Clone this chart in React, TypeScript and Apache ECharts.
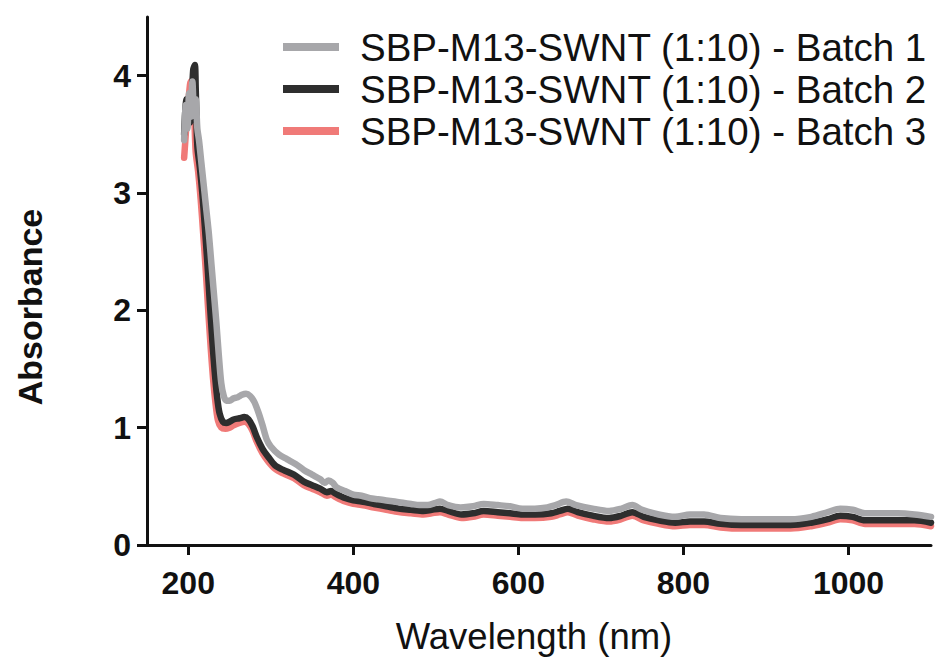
import React, { useEffect, useRef } from "react";
import * as echarts from "echarts";

const seriesNames = [
  "SBP-M13-SWNT (1:10) - Batch 1",
  "SBP-M13-SWNT (1:10) - Batch 2",
  "SBP-M13-SWNT (1:10) - Batch 3",
];

const batch1: [number, number][] = [
  [195, 3.45], [197, 3.75], [199, 3.55], [201, 3.85], [203, 3.65], [205, 3.95], [207, 3.7], [209, 3.8],
  [211, 3.55], [213, 3.45], [216, 3.25], [219, 3.05], [222, 2.85], [225, 2.65], [228, 2.4], [231, 2.15],
  [234, 1.9], [237, 1.62], [240, 1.38], [243, 1.27], [246, 1.23], [250, 1.23], [255, 1.25], [260, 1.26],
  [265, 1.28], [270, 1.29], [275, 1.27], [280, 1.22], [285, 1.13], [290, 1.02], [295, 0.9], [300, 0.84],
  [310, 0.77], [320, 0.73], [330, 0.69], [340, 0.64], [350, 0.6], [360, 0.56], [365, 0.53], [370, 0.55],
  [375, 0.53], [380, 0.49], [390, 0.46], [400, 0.43], [410, 0.42], [420, 0.4], [430, 0.39], [440, 0.38],
  [450, 0.37], [460, 0.36], [470, 0.35], [480, 0.34], [490, 0.34], [500, 0.36], [505, 0.37], [515, 0.34],
  [530, 0.32], [545, 0.33], [558, 0.35], [575, 0.34], [590, 0.33], [605, 0.31], [620, 0.31], [635, 0.32],
  [645, 0.34], [658, 0.37], [670, 0.34], [690, 0.31], [710, 0.29], [725, 0.31], [738, 0.34], [750, 0.3],
  [770, 0.26], [790, 0.24], [808, 0.26], [825, 0.26], [845, 0.23], [870, 0.22], [900, 0.22], [930, 0.22],
  [955, 0.24], [975, 0.28], [990, 0.31], [1005, 0.3], [1020, 0.27], [1040, 0.27], [1060, 0.27], [1080, 0.26],
  [1100, 0.24],
];

const batch2: [number, number][] = [
  [195, 3.5], [198, 3.8], [200, 3.78], [202, 3.6], [204, 3.75], [206, 4.05], [208, 4.09], [209, 3.9],
  [211, 3.4], [214, 3.22], [217, 3.0], [220, 2.72], [223, 2.42], [226, 2.08], [229, 1.76], [232, 1.48],
  [235, 1.26], [238, 1.12], [242, 1.05], [246, 1.04], [250, 1.05], [255, 1.07], [262, 1.08], [268, 1.09],
  [273, 1.07], [278, 1.01], [283, 0.92], [290, 0.82], [297, 0.75], [305, 0.68], [315, 0.64], [328, 0.6],
  [340, 0.54], [350, 0.51], [360, 0.48], [368, 0.45], [373, 0.46], [378, 0.44], [390, 0.4], [400, 0.38],
  [410, 0.37], [425, 0.35], [440, 0.33], [455, 0.31], [470, 0.3], [485, 0.29], [495, 0.3], [505, 0.31],
  [515, 0.29], [531, 0.26], [545, 0.27], [558, 0.29], [575, 0.28], [590, 0.27], [605, 0.26], [620, 0.26],
  [640, 0.27], [650, 0.29], [660, 0.31], [672, 0.28], [690, 0.25], [710, 0.23], [725, 0.25], [738, 0.28],
  [752, 0.24], [770, 0.21], [790, 0.19], [808, 0.2], [825, 0.2], [845, 0.18], [870, 0.17], [900, 0.17],
  [930, 0.17], [955, 0.19], [975, 0.22], [990, 0.25], [1005, 0.24], [1020, 0.21], [1040, 0.21], [1060, 0.21],
  [1080, 0.21], [1100, 0.19],
];

const batch3: [number, number][] = [
  [195, 3.3], [197, 3.5], [199, 3.7], [201, 3.85], [203, 3.95], [205, 3.9], [207, 3.7], [209, 3.35],
  [212, 3.18], [215, 2.95], [218, 2.66], [221, 2.36], [224, 2.02], [227, 1.7], [230, 1.42], [233, 1.21],
  [236, 1.06], [240, 1.0], [245, 0.99], [250, 1.0], [255, 1.02], [262, 1.04], [268, 1.05], [273, 1.03],
  [278, 0.97], [283, 0.88], [290, 0.78], [297, 0.71], [305, 0.65], [315, 0.61], [328, 0.57], [340, 0.51],
  [350, 0.48], [360, 0.45], [368, 0.42], [373, 0.43], [378, 0.41], [390, 0.37], [400, 0.35], [410, 0.34],
  [425, 0.32], [440, 0.3], [455, 0.28], [470, 0.27], [485, 0.26], [495, 0.27], [505, 0.28], [515, 0.26],
  [531, 0.23], [545, 0.24], [558, 0.26], [575, 0.25], [590, 0.24], [605, 0.23], [620, 0.23], [640, 0.24],
  [650, 0.26], [660, 0.28], [672, 0.25], [690, 0.22], [710, 0.2], [725, 0.22], [738, 0.25], [752, 0.21],
  [770, 0.18], [790, 0.16], [808, 0.17], [825, 0.17], [845, 0.15], [870, 0.14], [900, 0.14], [930, 0.14],
  [955, 0.16], [975, 0.19], [990, 0.22], [1005, 0.21], [1020, 0.18], [1040, 0.18], [1060, 0.18], [1080, 0.18],
  [1100, 0.16],
];

const xTicks = [200, 400, 600, 800, 1000];
const yTicks = [0, 1, 2, 3, 4];

const colors = ["#a7a7aa", "#2e2e2e", "#f07a78"];

export default function App() {
  const ref = useRef<HTMLDivElement>(null);
  useEffect(() => {
    if (!ref.current) return;
    const chart = echarts.init(ref.current, null, { renderer: "svg" });
    const font = "'Liberation Sans', Arial, Helvetica, sans-serif";
    const lineSeries = (name: string, data: [number, number][], color: string, z: number) => ({
      name,
      type: "line",
      data,
      color,
      showSymbol: false,
      symbol: "none",
      smooth: 0.3,
      z,
      lineStyle: { color, width: 6.5, join: "round", cap: "round" },
    });
    chart.setOption({
      animation: false,
      backgroundColor: "#ffffff",
      grid: { left: 147, right: 9, top: 17, bottom: 123, containLabel: false },
      legend: {
        orient: "vertical",
        left: 278,
        top: 21,
        itemWidth: 56,
        itemHeight: 8,
        itemGap: 0,
        icon: "rect",
        data: seriesNames,
        textStyle: {
          fontFamily: font,
          fontSize: 38.5,
          color: "#111",
          padding: [0, 0, 0, 16],
          lineHeight: 42,
          height: 42,
        },
      },
      graphic: [
        {
          type: "text",
          x: 30,
          y: 307,
          rotation: Math.PI / 2,
          style: {
            text: "Absorbance",
            fontFamily: font,
            fontSize: 34,
            fontWeight: "bold",
            fill: "#111",
            align: "center",
            verticalAlign: "middle",
          },
        },
      ],
      xAxis: {
        type: "value",
        min: 150,
        max: 1100,
        name: "Wavelength (nm)",
        nameLocation: "middle",
        nameGap: 73,
        nameTextStyle: { fontFamily: font, fontSize: 36.5, color: "#111", padding: [0, 10, 0, 0] },
        splitLine: { show: false },
        axisLine: { onZero: false, lineStyle: { color: "#111", width: 3 } },
        axisTick: { show: true, length: 10, lineStyle: { color: "#111", width: 3 }, customValues: xTicks },
        axisLabel: {
          customValues: xTicks,
          formatter: (v: number) => String(v),
          margin: 22,
          fontFamily: font,
          fontWeight: "bold",
          fontSize: 32,
          color: "#111",
        },
      },
      yAxis: {
        type: "value",
        min: 0,
        max: 4.5,
        splitLine: { show: false },
        axisLine: { show: true, lineStyle: { color: "#111", width: 3 } },
        axisTick: { show: true, length: 10, lineStyle: { color: "#111", width: 3 }, customValues: yTicks },
        axisLabel: {
          customValues: yTicks,
          formatter: (v: number) => String(v),
          margin: 16,
          fontFamily: font,
          fontWeight: "bold",
          fontSize: 32,
          color: "#111",
        },
      },
      series: [
        lineSeries(seriesNames[2], batch3, colors[2], 1),
        lineSeries(seriesNames[1], batch2, colors[1], 2),
        lineSeries(seriesNames[0], batch1, colors[0], 3),
      ],
    });
    return () => chart.dispose();
  }, []);
  return <div ref={ref} style={{ width: 940, height: 668, position: "absolute", left: 0, top: 0 }} />;
}
